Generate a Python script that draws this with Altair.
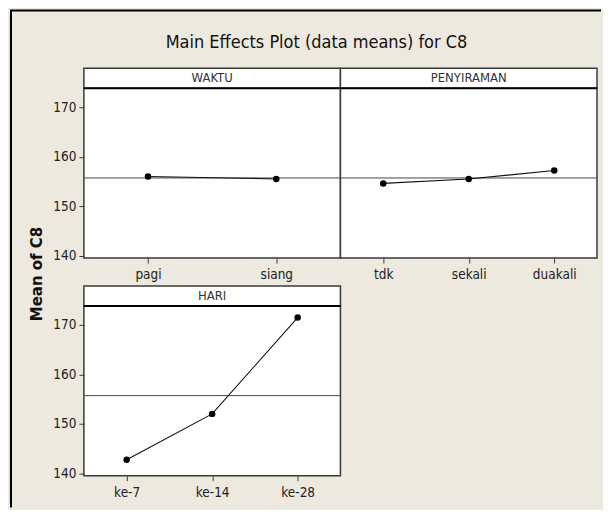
import altair as alt
import pandas as pd

# ---- data ----
title_text = "Main Effects Plot (data means) for C8"
y_title = "Mean of C8"
factors = ["WAKTU", "PENYIRAMAN", "HARI"]

waktu_levels = ["pagi", "siang"]
waktu_means = [156.0, 155.5]

peny_levels = ["tdk", "sekali", "duakali"]
peny_means = [154.6, 155.5, 157.2]

hari_levels = ["ke-7", "ke-14", "ke-28"]
hari_means = [142.7, 152.0, 171.5]

grand_mean = [155.7]
y_ticks = [140, 150, 160, 170]

# ---- styling ----
FONT = "DejaVu Sans Condensed, Liberation Sans Narrow, DejaVu Sans, sans-serif"
BG = "#EDE9DF"
FRAME = "#3a3a3a"
W, H = 257, 170
HDR = 20
Y_DOMAIN = [139.5, 173.85]


def panel(name, levels, means, show_y, extras=None):
    df = pd.DataFrame({"level": levels, "mean": means})
    yscale = alt.Scale(domain=Y_DOMAIN, nice=False, zero=False)
    if show_y:
        yaxis = alt.Axis(values=y_ticks, title=None, grid=False, domain=False,
                         tickSize=5, tickColor=FRAME, labelPadding=3,
                         labelFont=FONT, labelFontSize=13.5, labelColor="#222")
    else:
        yaxis = None
    x_enc = alt.X("level:N", sort=levels,
                  scale=alt.Scale(type="point", padding=0.5),
                  axis=alt.Axis(title=None, labelAngle=0, grid=False, domain=False,
                                tickSize=5, tickColor=FRAME, labelPadding=5,
                                labelFont=FONT, labelFontSize=13.5, labelColor="#222"))
    y_enc = alt.Y("mean:Q", scale=yscale, axis=yaxis)
    base = alt.Chart(df)
    line = base.mark_line(color="#111", strokeWidth=1.1).encode(x=x_enc, y=y_enc)
    pts = base.mark_circle(color="#000", size=42, opacity=1).encode(x=x_enc, y=y_enc)
    ref = alt.Chart(pd.DataFrame({"mean": grand_mean})).mark_rule(
        color="#444", strokeWidth=1).encode(y=y_enc)
    hdr_df = pd.DataFrame({"t": [name]})
    hdr_box = alt.Chart(hdr_df).mark_rect(
        fill="white", stroke=FRAME, strokeWidth=1.5, clip=False).encode(
        x=alt.value(0), x2=alt.value(W), y=alt.value(-HDR), y2=alt.value(0))
    hdr_line = alt.Chart(hdr_df).mark_rule(
        color="#000", strokeWidth=2, clip=False).encode(
        x=alt.value(0), x2=alt.value(W), y=alt.value(0))
    hdr_txt = alt.Chart(hdr_df).mark_text(
        font=FONT, fontSize=13, color="#333", baseline="middle",
        align="center", clip=False).encode(
        x=alt.value(W / 2), y=alt.value(-HDR / 2), text="t:N")
    layers = [ref, line, pts, hdr_box, hdr_line, hdr_txt]
    if extras:
        layers += extras
    return alt.layer(*layers).properties(width=W, height=H)


one = pd.DataFrame({"t": [title_text]})
title_mark = alt.Chart(one).mark_text(
    font=FONT, fontSize=18, color="#111", align="center", baseline="middle",
    clip=False).encode(x=alt.value(233), y=alt.value(-45), text="t:N")
ytitle_mark = alt.Chart(pd.DataFrame({"t": [y_title]})).mark_text(
    font="DejaVu Sans, sans-serif", fontSize=15, fontWeight="bold", color="#111",
    angle=270, align="center", baseline="middle", clip=False).encode(
    x=alt.value(-47), y=alt.value(186), text="t:N")
border_left = alt.Chart(pd.DataFrame({"b": [0]})).mark_rule(
    color="#000", strokeWidth=2, clip=False).encode(
    x=alt.value(-73), y=alt.value(-78), y2=alt.value(420))
border_top = alt.Chart(pd.DataFrame({"b": [0]})).mark_rule(
    color="#000", strokeWidth=2, clip=False).encode(
    x=alt.value(-74), x2=alt.value(518), y=alt.value(-78))

p1 = panel(factors[0], waktu_levels, waktu_means, True,
           extras=[title_mark, ytitle_mark, border_left, border_top])
p2 = panel(factors[1], peny_levels, peny_means, False)
p3 = panel(factors[2], hari_levels, hari_means, True)

chart = alt.concat(p1, p2, p3, columns=2, spacing={"row": 48, "column": 0},
                   bounds="flush").properties(
    background=BG,
    padding={"left": 0, "top": 0, "right": 0, "bottom": 0},
).configure_view(
    stroke=FRAME, strokeWidth=1.5, fill="white"
)

chart.save("out.html", embed_options={"renderer": "svg", "actions": False})
